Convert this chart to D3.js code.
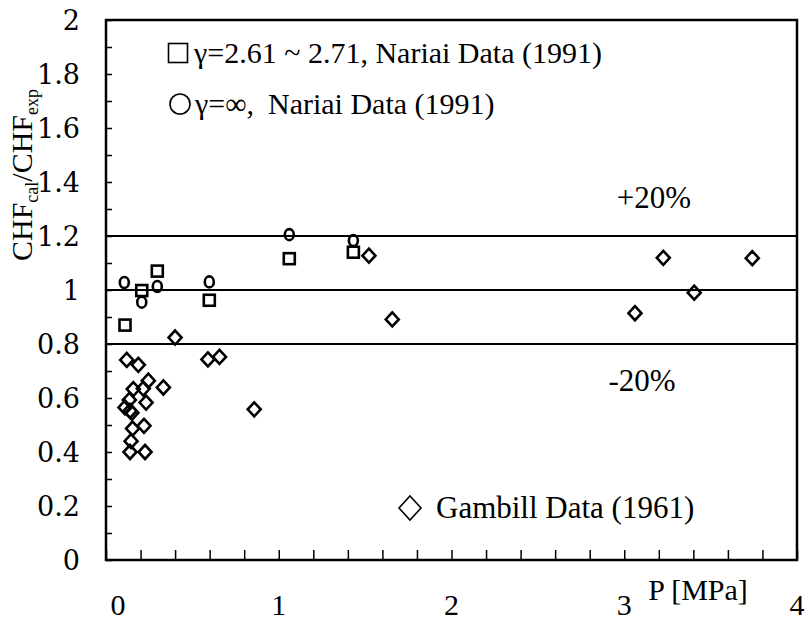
<!DOCTYPE html>
<html>
<head>
<meta charset="utf-8">
<script src="https://cdn.jsdelivr.net/npm/d3@7"></script>
<style>
body { margin: 0; background: #fff; }
text { font-family: "Liberation Serif", "Times New Roman", serif; fill: #000; }
.tick-num { font-family: "DejaVu Serif", serif; }
</style>
</head>
<body>
<div id="chart"></div>
<script>
'use strict';

// series data: [P (MPa), CHFcal/CHFexp]
let nariaiGamma = [[0.11, 0.87], [0.207, 0.998], [0.297, 1.07], [0.598, 0.962], [1.061, 1.116], [1.432, 1.14]];
let nariaiInf = [[0.106, 1.028], [0.207, 0.955], [0.297, 1.013], [0.598, 1.03], [1.061, 1.205], [1.432, 1.183]];
let gambill = [
	[0.40, 0.824], [0.59, 0.743], [0.657, 0.752], [0.858, 0.558], [1.522, 1.127], [1.657, 0.891],
	[3.062, 0.914], [3.226, 1.119], [3.405, 0.99], [3.741, 1.118],
	[0.12, 0.741], [0.187, 0.723], [0.245, 0.664], [0.332, 0.639], [0.216, 0.635], [0.158, 0.633],
	[0.135, 0.593], [0.232, 0.583], [0.11, 0.565], [0.139, 0.552], [0.15, 0.545], [0.22, 0.497],
	[0.154, 0.487], [0.145, 0.44], [0.139, 0.40], [0.226, 0.40]
];
let refLines = [0.8, 1.0, 1.2];
let xTickLabels = [0, 1, 2, 3, 4];
let yTickLabels = [0, 0.2, 0.4, 0.6, 0.8, 1, 1.2, 1.4, 1.6, 1.8, 2];

let width = 810;
let height = 627;

let x = d3.scaleLinear().domain([0, 4]).range([106, 797]);
let y = d3.scaleLinear().domain([0, 2]).range([560, 20]);

let svg = d3.select("#chart").append("svg")
	.attr("width", width)
	.attr("height", height);

svg.append("rect").attr("width", width).attr("height", height).attr("fill", "#fff");

// minor ticks, pointing inward
svg.append("g")
	.attr("transform", "translate(" + x(0) + ",0)")
	.call(d3.axisRight(y).ticks(20).tickSize(6).tickFormat(""))
	.call(function(g) { g.select(".domain").remove(); })
	.selectAll("line").attr("stroke-width", 1.5);

svg.append("g")
	.attr("transform", "translate(0," + y(0) + ")")
	.call(d3.axisTop(x).ticks(20).tickSize(10).tickFormat(""))
	.call(function(g) { g.select(".domain").remove(); })
	.selectAll("line").attr("stroke-width", 1.5);

// frame
svg.append("rect")
	.attr("x", x(0))
	.attr("y", y(2))
	.attr("width", x(4) - x(0))
	.attr("height", y(0) - y(2))
	.attr("fill", "none")
	.attr("stroke", "#000")
	.attr("stroke-width", 2.5);

svg.selectAll(".ref")
	.data(refLines)
	.enter().append("line")
		.attr("class", "ref")
		.attr("x1", x(0))
		.attr("x2", x(4))
		.attr("y1", function(d) { return y(d); })
		.attr("y2", function(d) { return y(d); })
		.attr("stroke", "#000")
		.attr("stroke-width", 2.2);

// tick labels
svg.selectAll(".ylab")
	.data(yTickLabels)
	.enter().append("text")
		.attr("class", "tick-num")
		.attr("x", 80)
		.attr("y", function(d) { return y(d); })
		.attr("dy", "0.36em")
		.attr("text-anchor", "end")
		.style("font-size", "27px")
		.text(function(d) { return d; });

svg.selectAll(".xlab")
	.data(xTickLabels)
	.enter().append("text")
		.attr("x", function(d) { return d === 0 ? x(d) + 12 : x(d); })
		.attr("y", 615)
		.attr("text-anchor", "middle")
		.style("font-size", "30px")
		.text(function(d) { return d; });

svg.append("text")
	.attr("x", 698)
	.attr("y", 600)
	.attr("text-anchor", "middle")
	.style("font-size", "30px")
	.text("P [MPa]");

// y title
let yt = svg.append("text")
	.attr("transform", "translate(32,175)rotate(-90)")
	.attr("text-anchor", "middle")
	.style("font-size", "30px");
yt.append("tspan").text("CHF");
yt.append("tspan").attr("dy", 6).style("font-size", "18px").text("cal");
yt.append("tspan").attr("dy", -6).text("/CHF");
yt.append("tspan").attr("dy", 6).style("font-size", "18px").text("exp");

svg.append("text").attr("x", 654).attr("y", y(1.345)).attr("dy", "0.35em")
	.attr("text-anchor", "middle").style("font-size", "31px").text("+20%");
svg.append("text").attr("x", 642).attr("y", y(0.667)).attr("dy", "0.35em")
	.attr("text-anchor", "middle").style("font-size", "31px").text("-20%");

// markers
function square(g, s) {
	return g.append("rect").attr("x", -s / 2).attr("y", -s / 2).attr("width", s).attr("height", s);
}
function diamond(g, w, h) {
	return g.append("path").attr("d", "M0," + (-h / 2) + "L" + (w / 2) + ",0L0," + (h / 2) + "L" + (-w / 2) + ",0Z");
}

let pts = svg.append("g")
	.attr("fill", "none")
	.attr("stroke", "#000")
	.attr("stroke-width", 2.6);

pts.selectAll(".sq")
	.data(nariaiGamma)
	.enter().append("g")
		.attr("transform", function(d) { return "translate(" + x(d[0]) + "," + y(d[1]) + ")"; })
		.each(function() { square(d3.select(this), 11); });

pts.selectAll(".ci")
	.data(nariaiInf)
	.enter().append("ellipse")
		.attr("cx", function(d) { return x(d[0]); })
		.attr("cy", function(d) { return y(d[1]); })
		.attr("rx", 4.5)
		.attr("ry", 5.5);

pts.selectAll(".di")
	.data(gambill)
	.enter().append("g")
		.attr("transform", function(d) { return "translate(" + x(d[0]) + "," + y(d[1]) + ")"; })
		.each(function() { diamond(d3.select(this), 13, 14); });

// legend
let leg = svg.append("g");
let l1 = leg.append("g").attr("transform", "translate(178,53)");
square(l1, 19).attr("fill", "none").attr("stroke", "#000").attr("stroke-width", 1.6);
l1.append("text").attr("x", 16).attr("dy", "0.33em").style("font-size", "30px")
	.text("\u03b3=2.61 ~ 2.71, Nariai Data (1991)");

let l2 = leg.append("g").attr("transform", "translate(180,104)");
l2.append("circle").attr("r", 10).attr("fill", "none").attr("stroke", "#000").attr("stroke-width", 1.6);
l2.append("text").attr("x", 15).attr("dy", "0.33em").style("font-size", "30px")
	.text("\u03b3=\u221e,");
l2.append("text").attr("x", 88).attr("dy", "0.33em").style("font-size", "30px")
	.text("Nariai Data (1991)");

let l3 = leg.append("g").attr("transform", "translate(410,508)");
diamond(l3, 22, 24).attr("fill", "none").attr("stroke", "#000").attr("stroke-width", 1.6);
l3.append("text").attr("x", 26).attr("dy", "0.33em").style("font-size", "31px")
	.text("Gambill Data (1961)");
</script>
</body>
</html>
